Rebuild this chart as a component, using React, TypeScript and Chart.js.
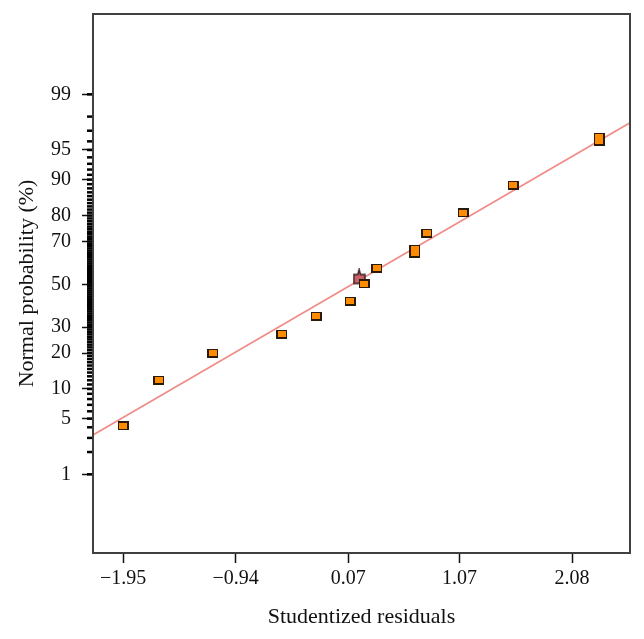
import React, { useEffect, useRef } from 'react';
import { Chart, registerables } from 'chart.js';
Chart.register(...registerables);

// Axis ticks
const xTickValues = [-1.95, -0.94, 0.07, 1.07, 2.08];
const yTickLabels = [1, 5, 10, 20, 30, 50, 70, 80, 90, 95, 99];
const yMinorStart = 1;
const yMinorEnd = 99;

// Data: studentized residuals vs normal probability (%)
const residuals = [-1.95, -1.628, -1.146, -0.526, -0.218, 0.087, 0.213, 0.327, 0.67, 0.67, 0.776, 1.104, 1.553, 2.325, 2.325];
const probabilities = [4.14, 12.06, 19.9, 27.1, 34.9, 41.9, 50.2, 57.8, 64.9, 66.7, 73.4, 81.0, 88.8, 96.0, 96.4];
const highlightResidual = [0.17];
const highlightProbability = [52.6];
const fitResidual = [-2.22, 2.6];
const fitProbability = [3.25, 97.6];

// Inverse standard normal CDF (Acklam)
function probit(p: number): number {
  const a = [-3.969683028665376e1, 2.209460984245205e2, -2.759285104469687e2, 1.38357751867269e2, -3.066479806614716e1, 2.506628277459239];
  const b = [-5.447609879822406e1, 1.615858368580409e2, -1.556989798598866e2, 6.680131188771972e1, -1.328068155288572e1];
  const c = [-7.784894002430293e-3, -3.223964580411365e-1, -2.400758277161838, -2.549732539343734, 4.374664141464968, 2.938163982698783];
  const d = [7.784695709041462e-3, 3.224671290700398e-1, 2.445134137142996, 3.754408661907416];
  const pl = 0.02425;
  if (p < pl) {
    const q = Math.sqrt(-2 * Math.log(p));
    return (((((c[0] * q + c[1]) * q + c[2]) * q + c[3]) * q + c[4]) * q + c[5]) / ((((d[0] * q + d[1]) * q + d[2]) * q + d[3]) * q + 1);
  }
  if (p > 1 - pl) {
    const q = Math.sqrt(-2 * Math.log(1 - p));
    return -(((((c[0] * q + c[1]) * q + c[2]) * q + c[3]) * q + c[4]) * q + c[5]) / ((((d[0] * q + d[1]) * q + d[2]) * q + d[3]) * q + 1);
  }
  const q = p - 0.5;
  const r = q * q;
  return ((((((a[0] * r + a[1]) * r + a[2]) * r + a[3]) * r + a[4]) * r + a[5]) * q) / (((((b[0] * r + b[1]) * r + b[2]) * r + b[3]) * r + b[4]) * r + 1);
}

function makeRect(w: number, h: number, color: string): HTMLCanvasElement {
  const c = document.createElement('canvas');
  c.width = w;
  c.height = h;
  const ctx = c.getContext('2d')!;
  ctx.fillStyle = color;
  ctx.fillRect(0, 0, w, h);
  return c;
}

function makeFlag(): HTMLCanvasElement {
  const c = document.createElement('canvas');
  c.width = 13;
  c.height = 21;
  const ctx = c.getContext('2d')!;
  ctx.beginPath();
  ctx.moveTo(1, 6);
  ctx.lineTo(5, 6);
  ctx.lineTo(6.3, 1);
  ctx.lineTo(7.6, 6);
  ctx.lineTo(12, 6);
  ctx.lineTo(12, 15);
  ctx.lineTo(1, 15);
  ctx.closePath();
  ctx.fillStyle = '#C9616B';
  ctx.fill();
  ctx.strokeStyle = '#3a1c1c';
  ctx.lineWidth = 1.4;
  ctx.stroke();
  return c;
}

const FONT = "'Liberation Serif', 'DejaVu Serif', serif";

export default function App() {
  const ref = useRef<HTMLCanvasElement | null>(null);
  useEffect(() => {
    const canvas = ref.current;
    if (!canvas) return;
    const outline = makeRect(11, 9, '#2a1a0a');
    const fill = makeRect(8, 6, '#FF8C00');
    const flag = makeFlag();

    const minorTicks = {
      id: 'minorTicks',
      afterDraw(chart: any) {
        const { ctx, chartArea } = chart;
        const y = chart.scales.y;
        ctx.save();
        ctx.strokeStyle = '#000';
        ctx.lineWidth = 2.5;
        for (let p = yMinorStart; p <= yMinorEnd; p++) {
          const py = y.getPixelForValue(probit(p / 100));
          ctx.beginPath();
          ctx.moveTo(chartArea.left - 6, py);
          ctx.lineTo(chartArea.left, py);
          ctx.stroke();
        }
        ctx.strokeStyle = '#404040';
        ctx.lineWidth = 2;
        ctx.strokeRect(chartArea.left, chartArea.top, chartArea.right - chartArea.left, chartArea.bottom - chartArea.top);
        ctx.restore();
      },
    };

    const pts = residuals.map((x, i) => ({ x, y: probit(probabilities[i] / 100) }));

    const chart = new Chart(canvas, {
      type: 'scatter',
      data: {
        datasets: [
          {
            label: 'fit',
            data: fitResidual.map((x, i) => ({ x, y: probit(fitProbability[i] / 100) })),
            showLine: true,
            borderColor: '#F08C88',
            borderWidth: 1.7,
            pointRadius: 0,
            order: 4,
          } as any,
          {
            label: 'highlight',
            data: highlightResidual.map((x, i) => ({ x, y: probit(highlightProbability[i] / 100) })),
            pointStyle: flag,
            order: 3,
          } as any,
          {
            label: 'residuals-outline',
            data: pts,
            pointStyle: outline,
            order: 2,
          } as any,
          {
            label: 'residuals',
            data: pts,
            pointStyle: fill,
            order: 1,
          } as any,
        ],
      },
      options: {
        animation: false,
        responsive: false,
        layout: { padding: { left: 0, right: 14, top: 14, bottom: 0 } },
        plugins: { legend: { display: false }, tooltip: { enabled: false } },
        scales: {
          x: {
            type: 'linear',
            min: -2.22,
            max: 2.6,
            afterBuildTicks: (scale: any) => {
              scale.ticks = xTickValues.map((v) => ({ value: v }));
            },
            afterFit: (scale: any) => {
              scale.height = 86;
              scale.paddingLeft = 0;
              scale.paddingRight = 0;
            },
            ticks: {
              autoSkip: false,
              maxRotation: 0,
              padding: 4,
              color: '#111',
              font: { family: FONT, size: 20 },
              callback: (v: any) => {
                const n = Number(v);
                return (n < 0 ? '\u2212' : '') + Math.abs(n).toFixed(2);
              },
            },
            grid: { display: true, drawOnChartArea: false, drawTicks: true, tickLength: 10, tickColor: '#111', tickWidth: 1.5 },
            border: { display: false },
            title: {
              display: true,
              text: 'Studentized residuals',
              color: '#111',
              font: { family: FONT, size: 22 },
              padding: { top: 0, bottom: 9 },
            },
          },
          y: {
            type: 'linear',
            min: -3.29,
            max: 3.31,
            afterBuildTicks: (scale: any) => {
              scale.ticks = yTickLabels.map((p) => ({ value: probit(p / 100) }));
            },
            afterFit: (scale: any) => {
              scale.width = 93;
              scale.paddingTop = 0;
              scale.paddingBottom = 0;
            },
            ticks: {
              autoSkip: false,
              padding: 11,
              color: '#111',
              font: { family: FONT, size: 20 },
              callback: (_v: any, i: number) => String(yTickLabels[i]),
            },
            grid: { display: true, drawOnChartArea: false, drawTicks: true, tickLength: 11, tickColor: '#111', tickWidth: 1.5 },
            border: { display: false },
            title: {
              display: true,
              text: 'Normal probability (%)',
              color: '#111',
              font: { family: FONT, size: 22 },
              padding: { top: 14, bottom: 0 },
            },
          },
        },
      },
      plugins: [minorTicks],
    } as any);
    return () => chart.destroy();
  }, []);

  return (
    <div style={{ position: 'absolute', left: 0, top: 0, width: 644, height: 639, background: '#fff' }}>
      <canvas ref={ref} width={644} height={639} style={{ width: 644, height: 639, display: 'block' }} />
    </div>
  );
}
